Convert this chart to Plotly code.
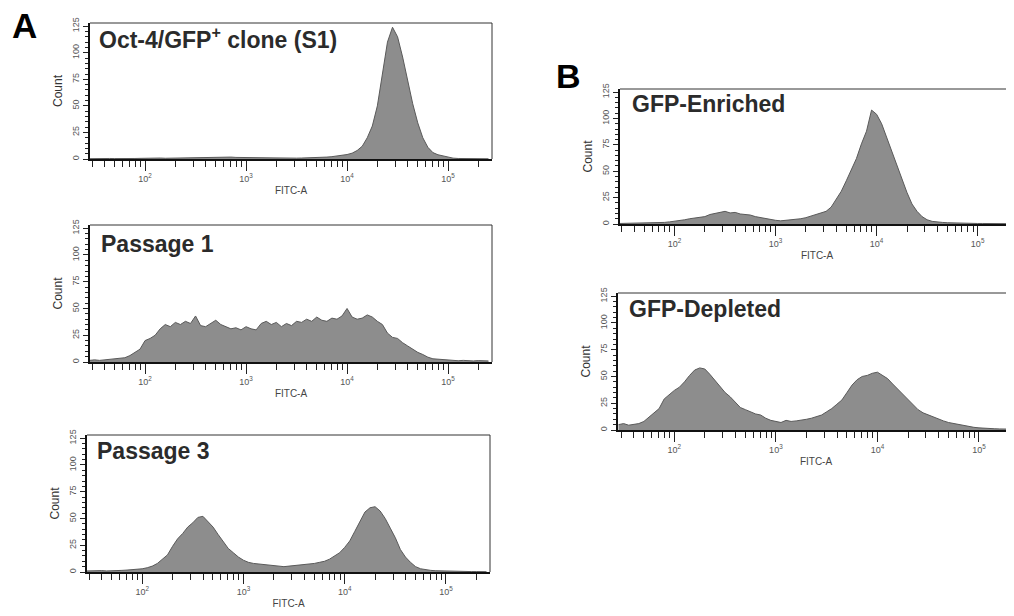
import numpy as np
import plotly.graph_objects as go

# FITC-A channels: log10 bin centres, 0.05 decade apart (1.45 ... 5.40)
channel_log = np.round(np.arange(1.45, 5.401, 0.05), 2)
fitc = 10 ** channel_log

# counts, one value per channel
s1_clone = [0.3, 0.5, 0.4, 0.6, 0.5, 0.4, 0.6, 0.5, 0.7, 0.5, 0.6, 0.8, 0.6, 0.7, 0.9, 0.7, 0.8, 1.0, 1.1,
            1.2, 1.4, 1.3, 1.6, 1.5, 1.8, 1.7, 1.9, 1.6, 1.8, 1.5, 1.4, 1.2,
            1.0, 0.9, 0.8, 0.7, 0.8, 0.6, 0.7, 0.6, 0.7, 0.8, 0.9, 1.0, 1.1, 1.3, 1.5, 1.8,
            2.2, 2.8, 3.3, 4.2, 5.5, 8, 12, 20, 31, 50, 80, 110, 124, 115, 96, 74, 52, 34, 20, 11,
            6, 4, 2.8, 1.5, 0.8, 0.5, 0.4, 0.3, 0.4, 0.3, 0.2, 0.2]

passage1 = [1.5, 2, 1.5, 2, 2.5, 3, 3.5, 4, 6, 9, 12, 20, 22, 25, 31, 35, 33, 37, 35, 38,
            36, 43, 34, 33, 36, 39, 35, 33, 31, 32, 30, 33, 31, 30, 36, 38, 35, 37, 33, 36,
            34, 38, 37, 40, 38, 42, 39, 38, 41, 40, 43, 50, 42, 40, 41, 44, 42, 38, 35, 27,
            23, 22, 18, 15, 12, 9, 7, 4.5, 3, 2.5, 2, 1.5, 1.5, 1.2, 1.5, 1.2, 1, 1.3, 1, 1]

passage3 = [1, 1.2, 1, 1.3, 1, 1.4, 1.2, 1.5, 1.8, 2, 2.5, 3, 4, 5.5, 8, 12, 16, 24, 31, 36,
            42, 46, 51, 52, 47, 42, 35, 29, 22, 18, 14, 11, 9, 8, 7.5, 7, 6.5, 6, 5.5, 5,
            5.5, 6, 6, 7, 7.5, 8, 9, 10, 12, 15, 18, 23, 29, 38, 47, 56, 60, 61, 57, 50,
            41, 32, 21, 14, 9, 5, 3, 2, 1.5, 1.2, 1, 0.8, 0.8, 0.6, 0.5, 0.5, 0.4, 0.4, 0.3, 0.3]

gfp_enriched = [0.5, 0.6, 0.5, 0.7, 0.6, 0.8, 0.7, 1, 1.2, 1.5, 2, 2.5, 3.5, 4, 5, 5.5, 6.5, 7, 9, 10,
                11, 12, 10.5, 11, 9.5, 9, 8.5, 7, 6, 5, 4.5, 3.5, 3, 3.5, 3.5, 4, 5, 6, 7.5, 9,
                10, 12, 16, 23, 31, 41, 52, 62, 76, 88, 108, 104, 95, 82, 67, 56, 43, 30, 19, 12,
                7, 4, 2.5, 1.8, 1.5, 1.2, 1, 0.9, 0.8, 0.7, 0.6, 0.5, 0.5, 0.4, 0.4, 0.3, 0.3, 0.3, 0.2, 0.2]

gfp_depleted = [5, 6, 4.5, 5.5, 6, 8, 12, 16, 20, 29, 33, 37, 40, 45, 51, 56, 58, 57, 52, 46,
                40, 35, 31, 26, 21, 19, 17, 15, 14, 11, 9, 8, 7, 9, 8, 8.5, 9, 10, 11, 12.5,
                14, 17, 20, 24, 28, 35, 42, 47, 50, 51, 53, 54, 51, 48, 43, 38, 33, 29, 23, 19,
                16, 14, 12, 10, 8.5, 7, 6, 5, 4, 3, 2.5, 2, 1.5, 1.5, 1.2, 1, 1, 0.8, 0.8, 0.7]

panel_titles = ["Oct-4/GFP<sup>+</sup> clone (S1)", "Passage 1", "Passage 3", "GFP-Enriched", "GFP-Depleted"]
panel_counts = [s1_clone, passage1, passage3, gfp_enriched, gfp_depleted]

count_ticks = [0, 25, 50, 75, 100, 125]
decade_ticks = [100, 1000, 10000, 100000]
decade_text = ["10<sup>2</sup>", "10<sup>3</sup>", "10<sup>4</sup>", "10<sup>5</sup>"]
minor_ticks = [m * 10 ** e for e in range(1, 6) for m in range(2, 10)]

# the page body keeps its 8px default margin, so the figure sits at (8, 8)
PAGE_W, PAGE_H, OFF = 1014, 616, 8
W, H = PAGE_W - OFF, PAGE_H - OFF


def px(x):
    return (x - OFF) / W


def py(y):
    return 1 - (y - OFF) / H


# pixel boxes of the panels on the page: left, right, top, bottom
boxes = [(90, 492, 23, 159), (90, 492, 225, 362), (87, 490, 435, 572),
         (620, 1014, 89, 224), (618, 1014, 293, 430)]
x_ranges = [[1.455, 5.435]] * 3 + [[1.46, 5.36], [1.445, 5.345]]
label_pos = [(97, 38), (99, 244), (95, 451), (630, 104), (627, 309)]

FILL = "#8d8d8d"
EDGE = "#5a5a5a"
FONT = "Liberation Sans, Arial, sans-serif"
TICK_FONT = dict(family=FONT, size=9, color="#555555")

fig = go.Figure()
shapes = []
annotations = []
layout = {}

for i, (title, counts) in enumerate(zip(panel_titles, panel_counts)):
    n = "" if i == 0 else str(i + 1)
    left, right, top, bottom = boxes[i]
    fig.add_trace(go.Scatter(
        x=fitc, y=counts, xaxis="x" + n, yaxis="y" + n,
        mode="lines", line=dict(color=EDGE, width=1), line_shape="linear",
        fill="tozeroy", fillcolor=FILL, showlegend=False, hoverinfo="skip"
    ))
    layout["xaxis" + n] = dict(
        type="log", domain=[px(left), min(px(right), 1)], range=x_ranges[i], anchor="y" + n,
        automargin=False,
        tickvals=decade_ticks, ticktext=decade_text, ticks="outside", ticklen=10,
        tickwidth=1, tickcolor="#222", tickfont=TICK_FONT,
        minor=dict(tickvals=minor_ticks, ticks="outside", ticklen=6, tickwidth=1, tickcolor="#222"),
        showline=True, linewidth=2, linecolor="#111", showgrid=False, zeroline=False,
        title=dict(text="FITC-A", font=dict(family=FONT, size=10, color="#444"), standoff=4),
    )
    layout["yaxis" + n] = dict(
        domain=[py(bottom), py(top)], range=[0, 128], anchor="x" + n,
        automargin=False,
        tickvals=count_ticks, ticks="outside", ticklen=5, tickwidth=1, tickcolor="#222",
        tickangle=-90, tickfont=TICK_FONT,
        minor=dict(dtick=5, ticks="outside", ticklen=3, tickwidth=1, tickcolor="#222"),
        showline=True, linewidth=2, linecolor="#111", showgrid=False, zeroline=False,
        title=dict(text="Count", font=dict(family=FONT, size=12, color="#333"), standoff=6),
    )
    # thin frame on top (and right, when the panel is not cut off)
    shapes.append(dict(type="line", xref="paper", yref="paper", x0=px(left), x1=min(px(right), 1),
                       y0=py(top), y1=py(top), line=dict(color="#333", width=1)))
    if right < PAGE_W:
        shapes.append(dict(type="line", xref="paper", yref="paper", x0=px(right), x1=px(right),
                           y0=py(top), y1=py(bottom), line=dict(color="#333", width=1)))
    lx, ly = label_pos[i]
    annotations.append(dict(text="<b>" + title + "</b>", xref="paper", yref="paper",
                            x=px(lx), y=py(ly), xanchor="left", yanchor="middle", showarrow=False,
                            font=dict(family=FONT, size=23, color="#2b2b2b")))

annotations.append(dict(text="<b>A</b>", xref="paper", yref="paper", x=px(10), y=py(25),
                        xanchor="left", yanchor="middle", showarrow=False,
                        font=dict(family=FONT, size=35, color="#000")))
annotations.append(dict(text="<b>B</b>", xref="paper", yref="paper", x=px(554), y=py(76),
                        xanchor="left", yanchor="middle", showarrow=False,
                        font=dict(family=FONT, size=34, color="#000")))

fig.update_layout(
    width=W, height=H, margin=dict(l=0, r=0, t=0, b=0),
    paper_bgcolor="white", plot_bgcolor="white",
    shapes=shapes, annotations=annotations, **layout
)

fig.write_html("out.html")
